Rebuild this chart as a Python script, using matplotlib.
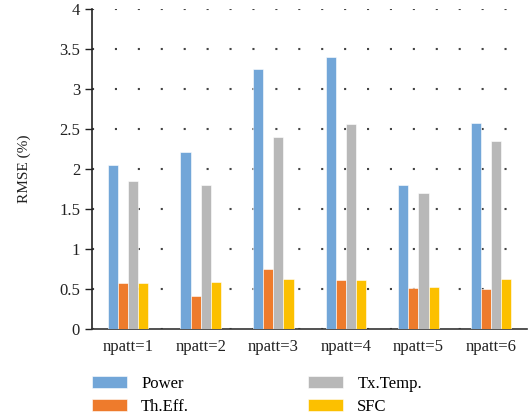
import matplotlib.pyplot as plt
import numpy as np

# RMSE per pattern count for each predicted output
categories = ['npatt=1', 'npatt=2', 'npatt=3', 'npatt=4', 'npatt=5', 'npatt=6']
power = [2.05, 2.21, 3.25, 3.40, 1.80, 2.58]
th_eff = [0.58, 0.41, 0.75, 0.61, 0.51, 0.50]
tx_temp = [1.85, 1.80, 2.40, 2.57, 1.70, 2.35]
sfc = [0.58, 0.59, 0.63, 0.61, 0.53, 0.63]

series = [('Power', power, '#72A6D8'),
          ('Th.Eff.', th_eff, '#EE7B2C'),
          ('Tx.Temp.', tx_temp, '#B8B8B8'),
          ('SFC', sfc, '#FCC000')]

plt.rcParams['font.family'] = ['Liberation Serif', 'DejaVu Serif']

fig = plt.figure(figsize=(5.31, 4.17), dpi=100)
ax = fig.add_axes([0.173, 0.211, 0.82, 0.767])

x = np.arange(len(categories))
width = 0.14
handles = []
for i, (name, vals, color) in enumerate(series):
    offset = (i - 1.5) * width
    h = ax.bar(x + offset, vals, width, color=color, label=name,
               edgecolor='white', linewidth=0.4, zorder=3)
    handles.append(h)

ax.set_xlim(-0.5, len(categories) - 0.5)
ax.set_ylim(0, 4)
ax.set_yticks(np.arange(0, 4.01, 0.5))
ax.set_yticklabels(['0', '0.5', '1', '1.5', '2', '2.5', '3', '3.5', '4'])
ax.set_xticks(x)
ax.set_xticklabels(categories)
ax.tick_params(axis='x', length=0, labelsize=12, pad=7, colors='#222222')
ax.tick_params(axis='y', length=5, width=1, labelsize=12, colors='#222222')
ax.yaxis.grid(True, linestyle=(0, (1, 10)), color='#444444', linewidth=1.5, zorder=0)

for side in ['top', 'right']:
    ax.spines[side].set_visible(False)
ax.spines['left'].set_linewidth(1.2)
ax.spines['bottom'].set_linewidth(1.2)
ax.spines['bottom'].set_color('#333333')
ax.spines['left'].set_color('#222222')

ax.set_ylabel('RMSE (%)', fontsize=11, labelpad=20, color='#222222')

fig.legend(handles=handles, loc='upper left', bbox_to_anchor=(0.173, 0.098),
           ncol=2, frameon=False, fontsize=12, handlelength=2.1, handleheight=0.75,
           handletextpad=0.85, columnspacing=7.15, labelspacing=0.4, borderpad=0,
           borderaxespad=0)

fig.savefig('out.png', dpi=100)
